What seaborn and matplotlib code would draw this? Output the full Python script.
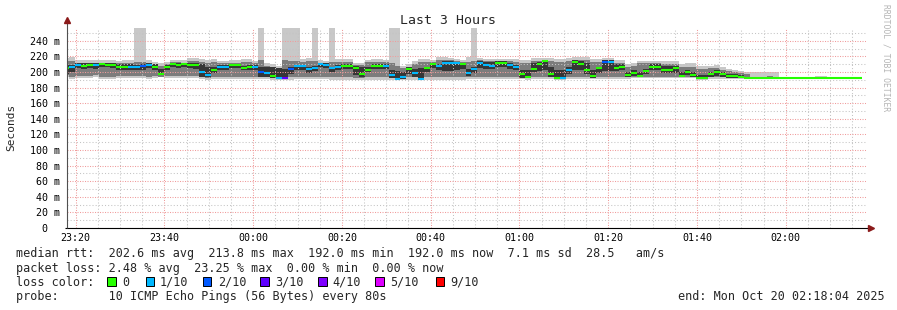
import matplotlib
matplotlib.use("Agg")
import numpy as np
import pandas as pd
import matplotlib.pyplot as plt
from matplotlib.patches import Rectangle
from matplotlib.ticker import FixedLocator
import seaborn as sns

# ------------------------------------------------------------------ data
time_labels = ["23:20", "23:40", "00:00", "00:20", "00:40", "01:00", "01:20", "01:40", "02:00"]
y_tick_values = [0, 20, 40, 60, 80, 100, 120, 140, 160, 180, 200, 220, 240]
y_tick_labels = ["0  ", "20 m", "40 m", "60 m", "80 m", "100 m", "120 m", "140 m",
                 "160 m", "180 m", "200 m", "220 m", "240 m"]

# median rtt per 80 s step (ms)
median_ms = [
    205, 206, 209.5, 208, 209, 208.5, 210, 209.5, 208.5, 207,
    207, 207, 206, 207.5, 209, 207, 198, 206, 210.5, 209.5,
    210.5, 209.5, 208.5, 199.5, 196, 202.5, 207, 207, 208.5, 208.5,
    205.5, 206.5, 207, 199.5, 198.5, 195.5, 192.5, 192, 203.5, 207.5,
    207.5, 204, 205, 210, 209.5, 204.5, 206.5, 207.5, 207.5, 205,
    197, 203, 207.5, 207.5, 207.5, 196, 191.5, 193.5, 203.5, 199,
    191, 205, 210, 208, 211.5, 211.5, 211, 210, 199, 203.5,
    211.5, 208.5, 208, 211, 212, 209, 207, 197, 194, 203.5,
    210.5, 213.8, 198, 192, 192, 203, 213, 210, 203, 194.5,
    204.5, 213, 213, 205, 207, 196.5, 199, 195.5, 201, 207,
    207, 203, 203, 205, 195.5, 200.5, 196.5, 192, 192, 198,
    200, 198, 194.5, 195, 194, 192, 192, 192, 192, 192,
    192, 192, 192, 192, 192, 192, 192, 192, 192, 192, 192, 192, 192, 192, 192,
]
# lost pings per step (tenths)
loss_tenths = [
    0, 1, 1, 0, 0, 1, 0, 0, 0, 0,
    0, 1, 1, 2, 1, 0, 0, 0, 0, 0,
    0, 0, 0, 1, 1, 0, 1, 1, 0, 0,
    0, 0, 1, 2, 1, 0, 1, 3, 2, 1,
    1, 1, 1, 1, 1, 1, 1, 0, 0, 0,
    0, 0, 0, 0, 1, 1, 1, 1, 0, 1,
    1, 0, 0, 1, 1, 1, 1, 0, 1, 1,
    1, 1, 1, 0, 0, 1, 1, 0, 0, 0,
    0, 0, 0, 0, 1, 1, 0, 0, 0, 0,
    0, 2, 1, 0, 0, 0, 0, 0, 0, 0,
    0, 0, 0, 0, 0, 0, 0, 0, 0, 0,
    0, 0, 0, 0, 0, 0, 0, 0, 0, 0,
    0, 0, 0, 0, 0, 0, 0, 0, 0, 0, 0, 0, 0, 0, 0,
]
# smoke: fastest / slowest ping
smoke_max = [
    218, 219, 216, 216, 216, 216, 215, 215, 215, 214.5,
    215, 216, 256, 256, 215, 213, 211, 213, 216, 216,
    215, 218, 218, 217, 215, 217, 214.5, 214.5, 215, 215,
    217, 217, 214.5, 256, 211, 210, 208, 256, 256, 256,
    216.5, 217.5, 256, 215, 214.5, 256, 216.5, 216.5, 216.5, 212,
    212, 216, 216.5, 216.5, 216, 256, 256, 208, 210, 214,
    216.5, 216.5, 216, 219, 219, 218, 217, 216, 219, 256,
    218, 217, 217, 216.5, 216.5, 217, 217, 215, 215, 217.5,
    217.5, 217.5, 217.5, 216.5, 216.5, 217.5, 219, 219, 219, 216.5,
    216.5, 218, 218, 215, 215, 210, 212, 214.5, 214.5, 214.5,
    214.5, 214.5, 213.5, 213.5, 210, 211, 211, 207.5, 207.5, 208,
    209, 206.5, 204, 202.5, 201.5, 199.5, 199.5, 199.5, 199.5, 199.5,
    199.5, 192, 192, 192, 192, 192, 192, 195.5, 195.5, 192, 192, 192, 192, 192, 192,
]
smoke_min = [
    193, 191, 192, 192, 192, 193, 191, 191, 191, 192,
    192, 192, 192, 192, 191, 192, 193, 192, 192, 192,
    192, 192, 192, 191, 190, 191, 191, 191, 191, 191,
    191, 191, 191, 190.5, 190.5, 190, 189.5, 189.5, 190, 191,
    191, 191, 191, 191, 191, 190, 190, 190, 190, 189.5,
    189.5, 190, 190, 190, 190, 190, 189.5, 189.5, 190, 190,
    189.5, 190, 190, 190, 190, 190, 190, 190, 191, 191,
    191, 191, 191, 191, 191, 191, 191, 191, 190, 191,
    191, 191, 191, 190, 190, 191, 191, 191, 191, 191,
    191, 191, 191, 191, 191, 191, 192, 192, 192, 192,
    192, 192, 192, 192, 192, 192, 192, 190, 190, 191,
    191, 191, 191, 191, 191.5, 192, 192, 192, 192, 192,
    192, 192, 192, 192, 192, 192, 192, 192, 192, 192, 192, 192, 192, 192, 192,
]
# smoke: middle pings
smoke_hi = [
    214, 214, 212, 212, 212, 212, 212, 212, 212, 211,
    212, 212, 213, 213, 212, 210, 208, 210, 213, 213,
    212, 214, 214, 213, 212, 213, 211, 211, 212, 212,
    213, 213, 211, 215, 208, 207, 205, 215, 214, 214,
    213, 214, 214, 212, 211, 213, 213, 213, 213, 209,
    209, 213, 213, 213, 213, 212, 208, 205, 207, 210,
    213, 213, 213, 215.5, 215.5, 215, 214, 213, 213, 214,
    215, 214, 214, 214, 214.5, 214, 213, 212, 212, 214,
    214, 216, 214, 213, 213, 214, 215.5, 215.5, 215, 213,
    213, 215.5, 215.5, 212, 211.5, 206, 208, 211, 211, 211,
    211, 210.5, 210, 210, 206, 207, 207, 204, 204, 205,
    205, 203, 201, 200, 199, 197, 194, 193, 194, 195,
    193, 192, 192, 192, 192, 192, 192, 192, 192, 192, 192, 192, 192, 192, 192,
]
smoke_lo = [
    196, 194, 195, 195, 195, 196, 194, 194, 194, 195,
    195, 195, 195, 195, 194, 195, 194, 195, 195, 195,
    195, 195, 195, 193, 192, 194, 194, 194, 194, 194,
    194, 194, 194, 193, 193, 192, 191, 191, 193, 194,
    194, 194, 194, 194, 194, 193, 193, 193, 193, 192,
    192, 193, 193, 193, 193, 192, 190.5, 191, 193, 193,
    190.5, 193, 194, 194, 194, 194, 194, 194, 194, 194,
    194, 194, 194, 194, 194, 194, 194, 193, 192, 194,
    194, 194, 193, 191, 191, 194, 194, 194, 194, 192,
    194, 194, 194, 194, 194, 193, 194, 193, 194, 194,
    194, 194, 194, 194, 193, 194, 193, 191, 191, 193,
    193, 193, 193, 193, 192.5, 192, 192, 192, 192, 192,
    192, 192, 192, 192, 192, 192, 192, 192, 192, 192, 192, 192, 192, 192, 192,
]
# smoke: pings closest to the median
dark_hi = [
    209, 209, 211, 211, 211, 211, 212, 212, 211, 210,
    210, 210, 209, 210, 211, 210, 204, 209, 212, 212,
    212, 212, 211, 210, 206, 206, 209, 209, 210, 210,
    208, 209, 209, 206, 206, 206, 205, 204, 207, 209,
    209, 207, 208, 212, 212, 207, 209, 210, 210, 208,
    207, 206, 210, 210, 210, 203, 201, 200, 206, 204,
    205, 207, 212, 210, 214, 214, 213, 212, 204, 207,
    214, 213, 213, 214, 214, 211, 209, 203, 203, 212,
    213, 215, 206, 203, 203, 206, 215, 214, 212, 203,
    207, 215, 215, 210, 210, 200, 202, 200, 204, 210,
    210, 208, 208, 208, 200, 203, 200, 196, 196, 200,
    202, 200, 198, 198, 196, 192, 192, 192, 192, 192,
    192, 192, 192, 192, 192, 192, 192, 192, 192, 192, 192, 192, 192, 192, 192,
]
dark_lo = [
    198, 200, 205, 204, 205, 204, 206, 206, 205, 203,
    203, 203, 202, 203, 205, 203, 196, 202, 206, 205,
    206, 205, 204, 193, 193, 199, 203, 203, 205, 205,
    202, 203, 203, 193, 193, 192, 191, 191, 198, 203,
    203, 199, 201, 206, 205, 200, 202, 204, 204, 196,
    194, 200, 204, 204, 204, 192, 190.5, 191, 197, 194,
    190.5, 200, 205, 203, 201, 201, 202, 204, 195, 199,
    205, 204, 204, 207, 207, 204, 202, 192, 192, 200,
    201, 202, 193, 191, 191, 198, 202, 202, 198, 192,
    199, 201, 201, 201, 202, 193, 195, 193, 197, 202,
    202, 199, 199, 199, 193, 196, 193, 191, 191, 194,
    195, 194, 192, 192, 192, 192, 192, 192, 192, 192,
    192, 192, 192, 192, 192, 192, 192, 192, 192, 192, 192, 192, 192, 192, 192,
]

loss_levels = ["0", "1/10", "2/10", "3/10", "4/10", "5/10", "9/10"]
loss_colors = ["#26ff00", "#00b8ff", "#0059ff", "#5e00ff", "#7e00ff", "#dd00ff", "#ff0000"]

stat_rtt = "median rtt:  202.6 ms avg  213.8 ms max  192.0 ms min  192.0 ms now  7.1 ms sd  28.5   am/s"
stat_loss = "packet loss: 2.48 % avg  23.25 % max  0.00 % min  0.00 % now"
probe_line = "probe:       10 ICMP Echo Pings (56 Bytes) every 80s"
end_line = "end: Mon Oct 20 02:18:04 2025"
title = "Last 3 Hours"

# ------------------------------------------------------------------ layout
W, H = 897, 310
STEP_MIN = 80 / 60.0          # 80 s steps
FIRST_STEP_MIN = -53 / 60.0   # first step starts 53 s before window start (23:18:04)
WINDOW_MIN = 180.0
FIRST_TICK_MIN = 1 + 56 / 60.0  # 23:20 relative to 23:18:04
MONO = "DejaVu Sans Mono"

sns.set_theme(style="white")
plt.rcParams["font.family"] = [MONO, "DejaVu Sans"]


def fx(x):
    return x / W


def fy(y):
    return 1 - y / H


fig = plt.figure(figsize=(W / 100, H / 100), dpi=100, facecolor="white")
ax = fig.add_axes([fx(67), fy(228), (866 - 67) / W, 200 / H])
ax.set_facecolor("white")

n = len(median_ms)
edges = FIRST_STEP_MIN + STEP_MIN * np.arange(n + 1)

# smoke
ax.stairs(smoke_max, edges, baseline=smoke_min, fill=True, color="#c8c8c8", lw=0, zorder=1)
ax.stairs(smoke_hi, edges, baseline=smoke_lo, fill=True, color="#7c7c7c", lw=0, zorder=1.1)
ax.stairs(dark_hi, edges, baseline=dark_lo, fill=True, color="#363636", lw=0, zorder=1.2)

# median, coloured by loss
rows = []
for j in range(n):
    lab = loss_levels[loss_tenths[j]]
    rows.append({"t": edges[j], "ms": median_ms[j], "col": j, "loss": lab})
    rows.append({"t": edges[j + 1], "ms": median_ms[j], "col": j, "loss": lab})
df = pd.DataFrame(rows)
sns.lineplot(data=df, x="t", y="ms", hue="loss", units="col", estimator=None,
             palette=dict(zip(loss_levels, loss_colors)), linewidth=1.5,
             legend=False, ax=ax, sort=False, solid_capstyle="butt", zorder=4)

ax.set_xlim(0, WINDOW_MIN)
ax.set_ylim(0, 256.4)

major_x = [FIRST_TICK_MIN + 20 * i for i in range(len(time_labels))]
minor_x = [FIRST_TICK_MIN + 5 * k for k in range(1, 36) if k % 4 != 0]
ax.set_xticks(major_x)
ax.set_xticklabels(time_labels)
ax.xaxis.set_minor_locator(FixedLocator(minor_x))
ax.set_yticks(y_tick_values)
ax.set_yticklabels(y_tick_labels)
ax.yaxis.set_minor_locator(FixedLocator([10 + 20 * k for k in range(13)]))
ax.set_xlabel("")
ax.set_ylabel("")

ax.grid(which="major", color="#f09c9c", linestyle=(0, (1, 1.4)), linewidth=0.75)
ax.grid(which="minor", color="#c4c4c4", linestyle=(0, (1, 2)), linewidth=0.75)
ax.set_axisbelow(False)
ax.tick_params(which="both", length=0, labelsize=7.2, colors="black")
ax.tick_params(axis="x", pad=3.4)
ax.tick_params(axis="y", pad=5)
for lbl in ax.get_xticklabels() + ax.get_yticklabels():
    lbl.set_family(MONO)
for s in ax.spines.values():
    s.set_visible(False)

# axes with arrows
ax.plot([-0.002, 1.004], [0, 0], transform=ax.transAxes, color="black", lw=0.8,
        clip_on=False, zorder=6, solid_capstyle="butt")
ax.plot([0, 0], [0, 1.035], transform=ax.transAxes, color="#505050", lw=0.8,
        clip_on=False, zorder=6, solid_capstyle="butt")
ax.plot([1.0063], [0], transform=ax.transAxes, marker=">", markersize=4,
        color="#8b1a1a", clip_on=False, zorder=7)
ax.plot([0], [1.04], transform=ax.transAxes, marker="^", markersize=4,
        color="#8b1a1a", clip_on=False, zorder=7)

# texts
fig.text(fx(448), fy(23.5), title, ha="center", va="baseline", fontsize=9.5, family=MONO)
fig.text(fx(11.5), fy(127), "Seconds", rotation=90, ha="center", va="center",
         fontsize=8, family=MONO)
fig.text(fx(886), fy(4), "RRDTOOL / TOBI OETIKER", rotation=270, ha="center", va="top",
         fontsize=5.8, family=MONO, color="#b4b4b4")

fs = 8.5
fig.text(fx(16), fy(257.5), stat_rtt, ha="left", va="baseline", fontsize=fs, family=MONO)
fig.text(fx(16), fy(271.6), stat_loss, ha="left", va="baseline", fontsize=fs, family=MONO)
fig.text(fx(16), fy(285.7), "loss color:", ha="left", va="baseline", fontsize=fs, family=MONO)
fig.text(fx(16), fy(299.8), probe_line, ha="left", va="baseline", fontsize=fs, family=MONO)
fig.text(fx(678.3), fy(299.8), end_line, ha="left", va="baseline", fontsize=fs, family=MONO)

box_x = [107.3, 145.7, 202.7, 260.0, 318.3, 375.0, 435.7]
label_x = [122.7, 160.0, 217.7, 275.0, 332.7, 390.0, 450.0]
for bx, lx, lab, col in zip(box_x, label_x, loss_levels, loss_colors):
    fig.add_artist(Rectangle((fx(bx), fy(286.0)), 8.7 / W, 8.7 / H,
                             transform=fig.transFigure, facecolor=col,
                             edgecolor="black", lw=0.7))
    fig.text(fx(lx), fy(285.7), lab, ha="left", va="baseline", fontsize=fs, family=MONO)

fig.savefig("out.png", dpi=100, facecolor="white")
